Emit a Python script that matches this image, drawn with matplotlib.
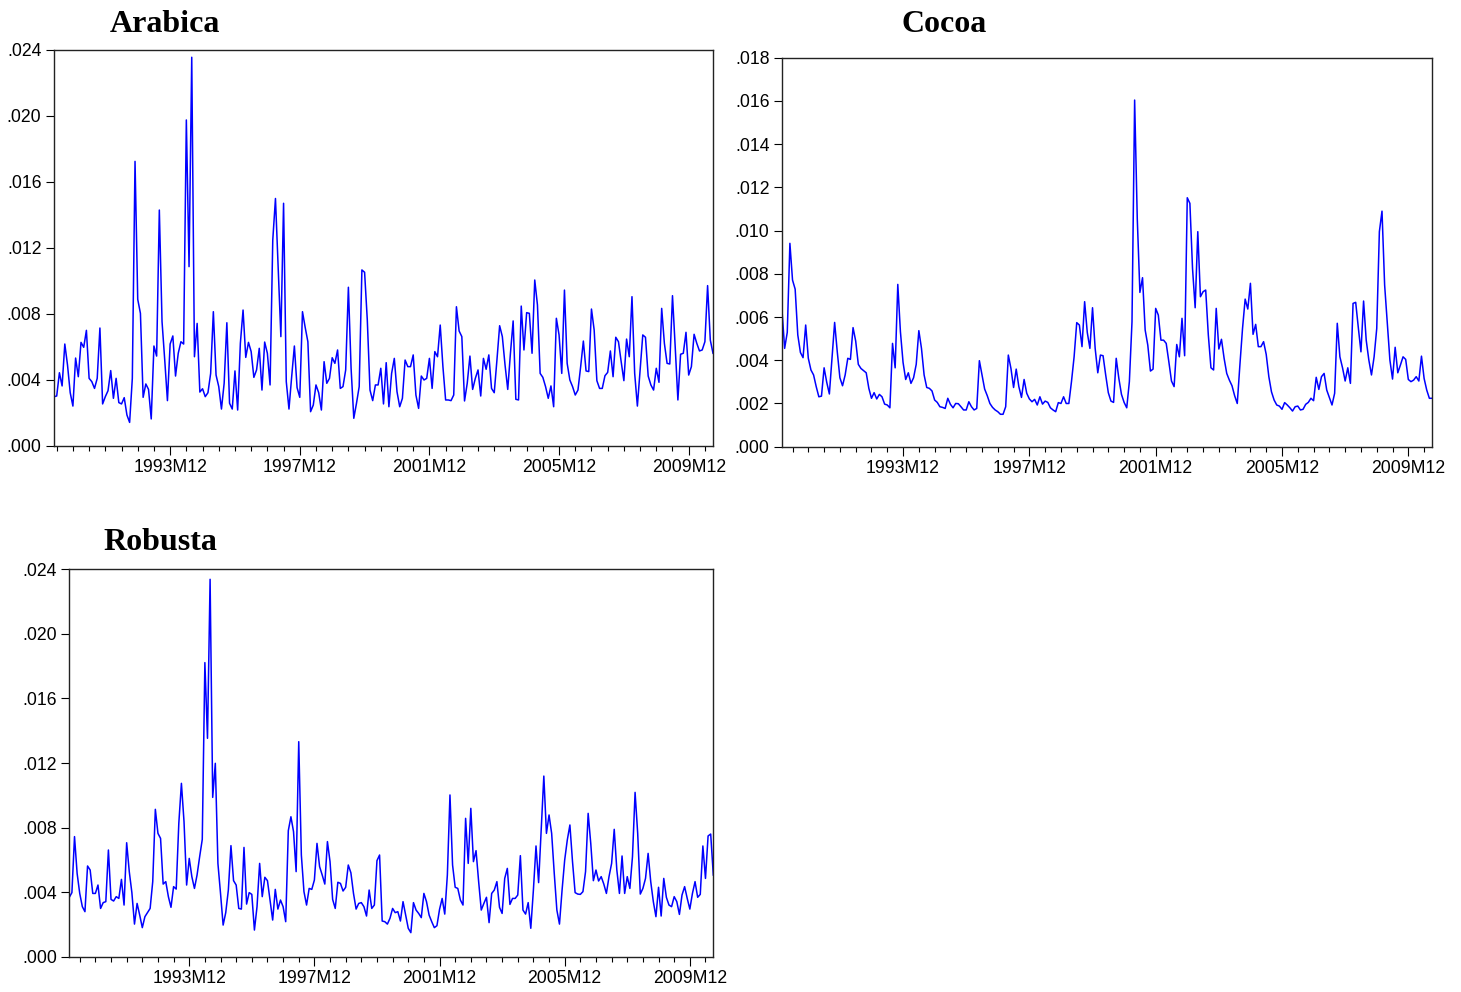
import numpy as np
import matplotlib
matplotlib.use("Agg")
import matplotlib.pyplot as plt
from matplotlib.ticker import FuncFormatter

# monthly series, first observation of each
arabica_start = (1990, 5)
cocoa_start = (1990, 2)
robusta_start = (1990, 2)
label_years = [1993, 1997, 2001, 2005, 2009]

arabica = [
    .00299, .00303, .00444, .00364, .00618, .00491, .00323, .00242, .00533, .00420,
    .00628, .00598, .00701, .00410, .00390, .00349, .00410, .00715, .00255, .00299,
    .00335, .00457, .00289, .00410, .00263, .00255, .00293, .00188, .00143, .00410,
    .01725, .00889, .00804, .00295, .00376, .00343, .00164, .00606, .00545, .01430,
    .00754, .00521, .00275, .00618, .00667, .00424, .00562, .00632, .00618, .01976,
    .01087, .02356, .00541, .00743, .00327, .00347, .00299, .00323, .00440, .00814,
    .00430, .00360, .00224, .00380, .00747, .00259, .00224, .00455, .00218, .00622,
    .00824, .00537, .00628, .00572, .00416, .00461, .00592, .00339, .00630, .00562,
    .00370, .01248, .01500, .01080, .00663, .01471, .00390, .00224, .00420, .00606,
    .00354, .00295, .00814, .00719, .00632, .00208, .00248, .00370, .00323, .00218,
    .00511, .00380, .00410, .00535, .00501, .00582, .00349, .00360, .00461, .00962,
    .00471, .00168, .00259, .00360, .01067, .01053, .00764, .00339, .00275, .00370,
    .00370, .00471, .00255, .00505, .00238, .00440, .00531, .00329, .00238, .00289,
    .00521, .00481, .00481, .00552, .00309, .00228, .00424, .00400, .00410, .00531,
    .00349, .00572, .00541, .00733, .00481, .00279, .00279, .00275, .00309, .00844,
    .00697, .00663, .00273, .00380, .00545, .00343, .00410, .00461, .00303, .00531,
    .00465, .00552, .00349, .00323, .00521, .00729, .00663, .00491, .00343, .00562,
    .00758, .00283, .00279, .00848, .00582, .00808, .00804, .00562, .01006, .00855,
    .00440, .00416, .00360, .00289, .00364, .00238, .00774, .00673, .00440, .00945,
    .00501, .00400, .00360, .00309, .00339, .00481, .00636, .00455, .00451, .00830,
    .00703, .00396, .00349, .00349, .00426, .00446, .00576, .00420, .00659, .00632,
    .00511, .00396, .00648, .00541, .00905, .00440, .00242, .00461, .00673, .00659,
    .00424, .00370, .00339, .00471, .00386, .00834, .00622, .00501, .00497, .00911,
    .00602, .00279, .00556, .00562, .00689, .00430, .00481, .00677, .00622, .00576,
    .00582, .00632, .00972, .00642, .00562,
]

cocoa = [
    .00632, .00455, .00529, .00941, .00771, .00729, .00517, .00436, .00412, .00563,
    .00409, .00355, .00332, .00278, .00231, .00234, .00365, .00298, .00244, .00409,
    .00575, .00439, .00319, .00282, .00332, .00409, .00404, .00551, .00489, .00381,
    .00362, .00352, .00342, .00270, .00224, .00250, .00221, .00242, .00231, .00197,
    .00193, .00180, .00478, .00365, .00751, .00532, .00390, .00311, .00342, .00293,
    .00319, .00381, .00537, .00455, .00332, .00274, .00270, .00258, .00216, .00205,
    .00185, .00182, .00177, .00224, .00196, .00180, .00200, .00199, .00185, .00170,
    .00170, .00208, .00185, .00170, .00177, .00398, .00332, .00267, .00236, .00200,
    .00182, .00170, .00162, .00150, .00150, .00185, .00424, .00362, .00274, .00359,
    .00278, .00228, .00311, .00247, .00221, .00208, .00219, .00193, .00231, .00197,
    .00211, .00205, .00180, .00170, .00162, .00204, .00200, .00231, .00200, .00200,
    .00301, .00416, .00574, .00563, .00463, .00671, .00529, .00455, .00643, .00455,
    .00342, .00424, .00421, .00332, .00250, .00211, .00205, .00409, .00316, .00242,
    .00205, .00180, .00301, .00578, .01604, .01056, .00714, .00782, .00540, .00470,
    .00350, .00359, .00640, .00609, .00493, .00493, .00478, .00393, .00304, .00278,
    .00473, .00416, .00594, .00421, .01152, .01126, .00825, .00643, .00995, .00694,
    .00717, .00725, .00517, .00365, .00355, .00640, .00452, .00497, .00409, .00339,
    .00308, .00282, .00236, .00200, .00378, .00547, .00683, .00637, .00756, .00520,
    .00566, .00463, .00463, .00486, .00427, .00324, .00254, .00216, .00193, .00188,
    .00173, .00204, .00193, .00180, .00165, .00185, .00188, .00170, .00173, .00196,
    .00205, .00224, .00213, .00321, .00265, .00324, .00339, .00262, .00227, .00193,
    .00247, .00571, .00416, .00365, .00304, .00365, .00293, .00663, .00668, .00551,
    .00439, .00674, .00493, .00401, .00332, .00416, .00547, .00995, .01090, .00748,
    .00578, .00401, .00313, .00460, .00342, .00378, .00416, .00404, .00311, .00301,
    .00308, .00324, .00304, .00419, .00316, .00262, .00224, .00224,
]

robusta = [
    .00368, .00397, .00744, .00516, .00392, .00310, .00279, .00562, .00537, .00392,
    .00392, .00444, .00299, .00335, .00341, .00661, .00355, .00345, .00372, .00361,
    .00479, .00320, .00706, .00527, .00397, .00202, .00330, .00258, .00180, .00248,
    .00273, .00299, .00465, .00913, .00764, .00733, .00450, .00465, .00372, .00306,
    .00434, .00419, .00826, .01074, .00836, .00444, .00609, .00496, .00423, .00506,
    .00620, .00727, .01822, .01353, .02338, .00987, .01198, .00578, .00392, .00196,
    .00273, .00413, .00688, .00471, .00444, .00299, .00295, .00677, .00326, .00397,
    .00386, .00165, .00310, .00578, .00372, .00492, .00471, .00351, .00227, .00417,
    .00295, .00351, .00310, .00217, .00781, .00867, .00775, .00527, .01332, .00630,
    .00403, .00320, .00423, .00417, .00475, .00702, .00558, .00506, .00450, .00713,
    .00589, .00355, .00299, .00461, .00454, .00407, .00430, .00568, .00520, .00392,
    .00295, .00330, .00335, .00310, .00252, .00413, .00299, .00320, .00595, .00630,
    .00221, .00217, .00202, .00238, .00299, .00273, .00279, .00221, .00341, .00258,
    .00176, .00149, .00335, .00289, .00268, .00242, .00392, .00341, .00258, .00217,
    .00180, .00192, .00293, .00361, .00264, .00506, .01002, .00568, .00430, .00423,
    .00351, .00320, .00857, .00578, .00919, .00589, .00657, .00465, .00289, .00330,
    .00368, .00211, .00392, .00413, .00465, .00306, .00268, .00485, .00547, .00324,
    .00361, .00361, .00382, .00626, .00289, .00264, .00335, .00176, .00413, .00686,
    .00459, .00785, .01119, .00764, .00878, .00764, .00516, .00289, .00202, .00413,
    .00599, .00723, .00816, .00589, .00397, .00388, .00386, .00403, .00527, .00888,
    .00702, .00471, .00537, .00469, .00496, .00450, .00392, .00496, .00578, .00789,
    .00537, .00392, .00624, .00392, .00496, .00423, .00620, .01018, .00764, .00388,
    .00423, .00485, .00640, .00465, .00341, .00248, .00430, .00252, .00485, .00368,
    .00320, .00310, .00372, .00341, .00262, .00382, .00434, .00361, .00295, .00392,
    .00465, .00368, .00386, .00686, .00485, .00748, .00760, .00506,
]

W, H = 1461, 992
TICK_FONT = "Liberation Sans"
TITLE_FONT = "Liberation Serif"


def months(start, n):
    # months counted from 1990M01
    m0 = (start[0] - 1990) * 12 + start[1] - 1
    return np.arange(m0, m0 + n)


def box(left, top, right, bottom):
    return [left / W, 1 - bottom / H, (right - left) / W, (bottom - top) / H]


def draw(fig, rect, start, vals, ymax, ystep, title, title_xy):
    ax = fig.add_axes(box(*rect))
    x = months(start, len(vals))
    ax.plot(x, vals, color="#0000ff", lw=1.1)

    ax.set_xlim(x[0], x[-1])
    ax.set_ylim(0, ymax)
    yt = np.round(np.arange(0, ymax + ystep / 2, ystep), 4)
    ax.set_yticks(yt)
    ax.yaxis.set_major_formatter(FuncFormatter(lambda v, p: f"{v:.3f}"[1:]))

    major = [(y - 1990) * 12 + 11 for y in label_years]
    ax.set_xticks(major)
    ax.set_xticklabels([f"{y}M12" for y in label_years])
    minor = [m for m in range(x[0], x[-1] + 1) if m % 6 == 5 and m not in major]
    ax.set_xticks(minor, minor=True)

    ax.tick_params(axis="y", length=6, width=0.8, pad=3, labelsize=12.7)
    ax.tick_params(axis="x", which="major", length=6.5, width=0.8, pad=3,
                   labelsize=12.7)
    ax.tick_params(axis="x", which="minor", length=3.5, width=0.8)
    for lab in ax.get_xticklabels() + ax.get_yticklabels():
        lab.set_fontfamily(TICK_FONT)
    for s in ax.spines.values():
        s.set_linewidth(1.0)
        s.set_color("#222222")

    fig.text(title_xy[0] / W, 1 - title_xy[1] / H, title, ha="center",
             va="baseline", fontsize=23, fontweight="bold", family=TITLE_FONT)
    return ax


fig = plt.figure(figsize=(W / 100, H / 100), dpi=100)

draw(fig, (54, 50, 713, 446), arabica_start, arabica, 0.024, 0.004,
     "Arabica", (165, 32))
draw(fig, (782, 57.7, 1432, 446.7), cocoa_start, cocoa, 0.018, 0.002,
     "Cocoa", (944, 32))
draw(fig, (69.3, 569.3, 713.3, 956.7), robusta_start, robusta, 0.024, 0.004,
     "Robusta", (160, 550))

fig.savefig("out.png", dpi=100)
